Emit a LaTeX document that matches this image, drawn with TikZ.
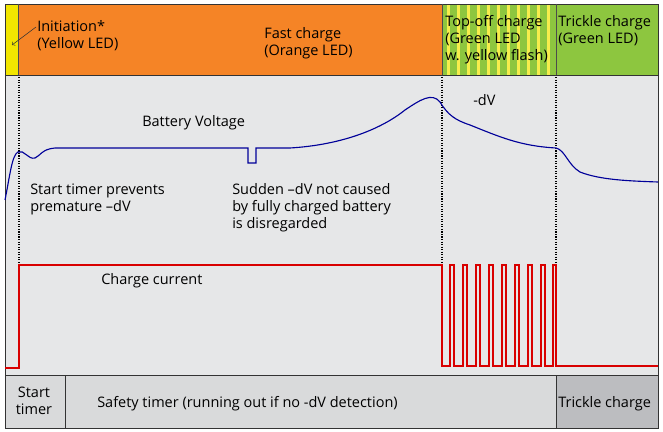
\documentclass[tikz,border=0pt]{standalone}
\usepackage{fontspec}
\setmainfont{Open Sans}
\begin{document}
\begin{tikzpicture}[x=0.025cm,y=-0.025cm,font=\fontsize{10.3}{12}\selectfont,
 lbl/.style={align=left,anchor=west,inner sep=0pt},
 dsh/.style={densely dotted,black,thick}]
\definecolor{bg}{HTML}{E6E7E8}
\definecolor{org}{HTML}{F58426}
\definecolor{grn}{HTML}{8DC63F}
\definecolor{yel}{HTML}{F2E600}
\definecolor{lg}{HTML}{D9DADB}
\definecolor{dg}{HTML}{BCBDC0}
\useasboundingbox (0,0) rectangle (663,432);
\fill[white] (0,0) rectangle (663,432);
\fill[bg] (5,75) rectangle (658,375);
\fill[yel] (5,4) rectangle (18,75);
\fill[org] (18,4) rectangle (442,75);
\fill[grn] (442,4) rectangle (556,75);
\foreach \i in {0,...,10} \fill[yel!70!white] (447+\i*10,4) rectangle (450+\i*10,75);
\fill[grn] (556,4) rectangle (658,75);
\fill[lg] (5,375) rectangle (556,428);
\fill[dg] (556,375) rectangle (658,428);
\draw[semithick,black!80] (5,4) rectangle (658,428);
\draw[semithick,black!80] (5,75) -- (658,75) (5,375) -- (658,375) (65,375) -- (65,428) (556,375) -- (556,428);
\draw[black!70] (18,4) -- (18,75) (442,4) -- (442,75) (556,4) -- (556,75);
\foreach \x in {19,442,556} \draw[dsh] (\x,77) -- (\x,263);
\node[lbl] (init) at (37,36) {Initiation*\\(Yellow LED)};
\draw[->,black!80] (36,27) -- (12,45);
\node[lbl] (fast) at (264,43) {Fast charge\\(Orange LED)};
\node[lbl] (top) at (445,40) {Top-off charge\\(Green LED\\w. yellow flash)};
\node[lbl] (tri) at (558,31) {Trickle charge\\(Green LED)};
\node[align=center] (st) at (34,401) {Start\\timer};
\node[lbl] (saf) at (97,404) {Safety timer (running out if no -dV detection)};
\node[lbl] (tc) at (558,404) {Trickle charge};
\node[lbl] (bv) at (142,123) {Battery Voltage};
\node[lbl] (dv) at (473,100) {-dV};
\node[lbl] (stp) at (30,199) {Start timer prevents\\premature –dV};
\node[lbl] (sud) at (232,208) {Sudden –dV not caused\\by fully charged battery\\is disregarded};
\node[lbl] (cc) at (101,281) {Charge current};
\draw[blue!60!black,thick] (5,200) .. controls (10,175) and (12,155) .. (18,152)
 .. controls (24,149) and (28,160) .. (35,158) .. controls (40,156) and (42,149) .. (55,148)
 -- (248,148) -- (248,163) -- (256,163) -- (256,148) -- (290,148)
 .. controls (340,145) and (380,130) .. (405,110) .. controls (420,100) and (432,92) .. (440,102)
 .. controls (448,115) and (455,120) .. (470,125) .. controls (500,137) and (520,146) .. (556,148)
 .. controls (565,150) and (568,165) .. (580,172) .. controls (600,180) and (630,181) .. (658,182);
\draw[red!85!black,thick] (5,368) -- (19,368) -- (19,265) -- (442,265) -- (442,366)
 \foreach \p in {450,463,476,489,502,515,528,541} {-- (\p,366) -- (\p,265) -- (\p+4,265) -- (\p+4,366)}
 -- (553,366) -- (553,265) -- (556,265) -- (556,366) -- (658,366);
\end{tikzpicture}
\end{document}
